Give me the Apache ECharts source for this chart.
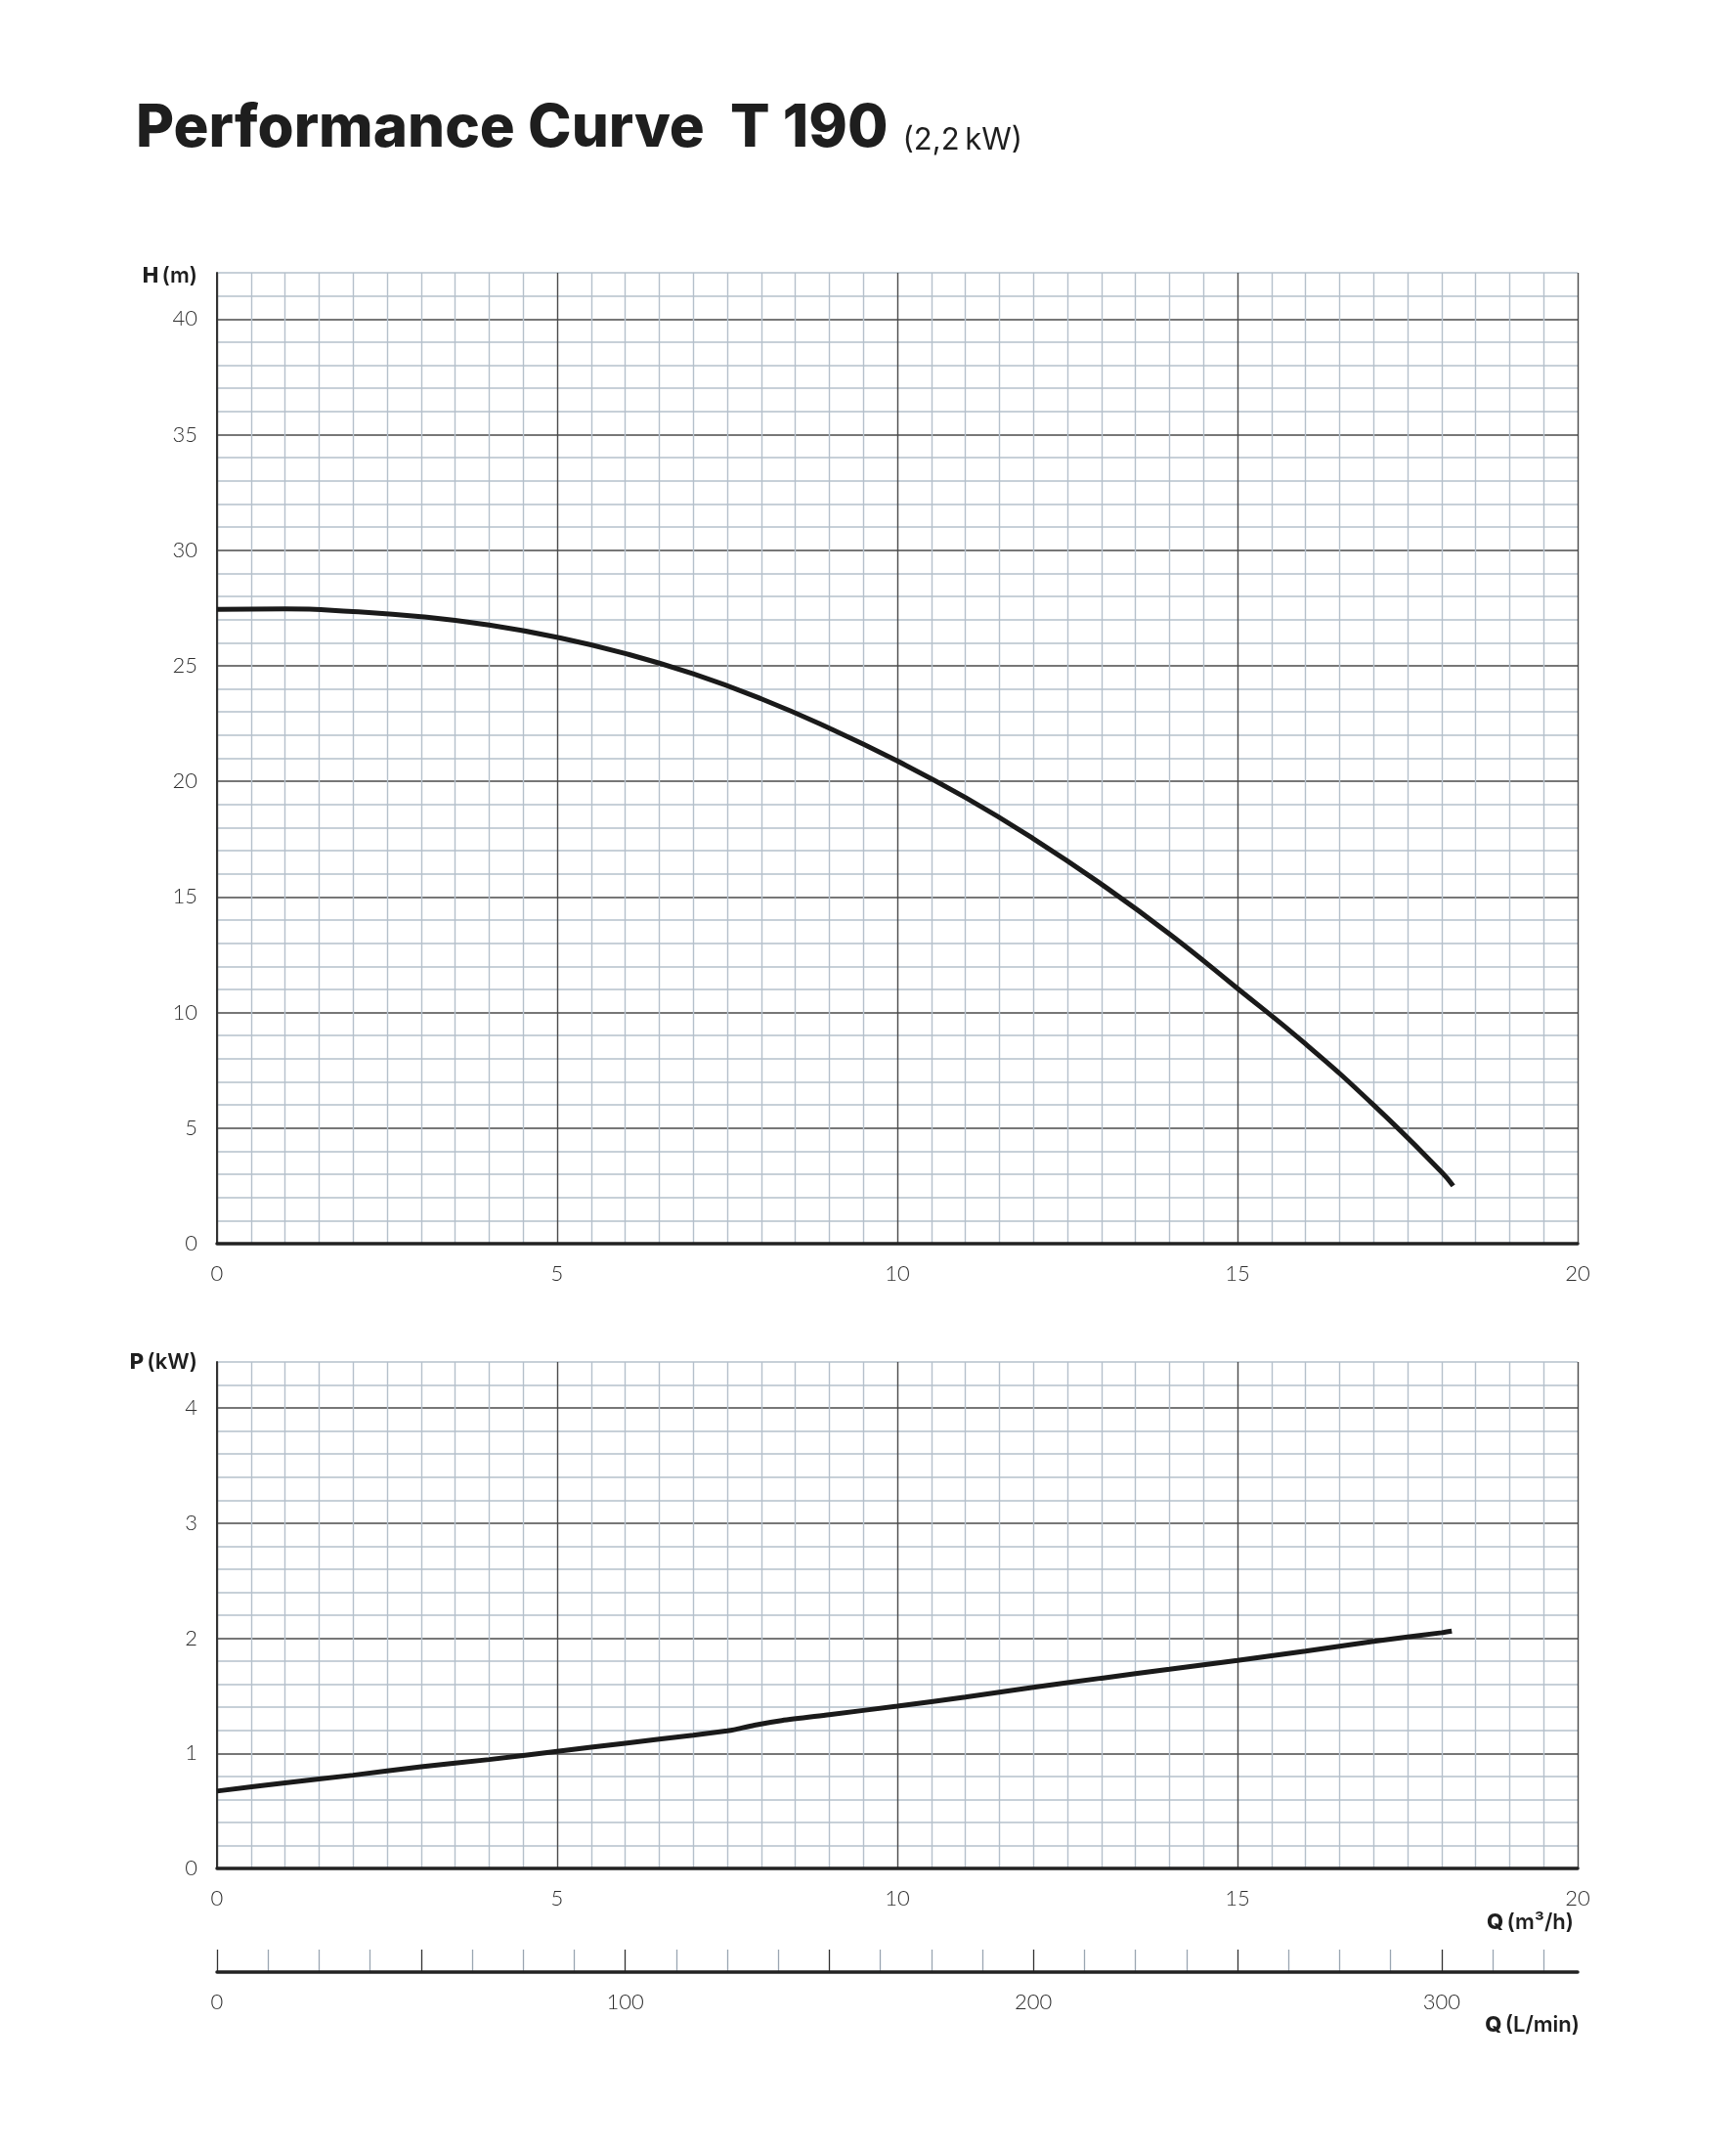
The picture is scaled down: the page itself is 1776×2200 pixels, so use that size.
<!DOCTYPE html>
<html><head><meta charset="utf-8">
<script src="https://cdn.jsdelivr.net/npm/echarts@6/dist/echarts.min.js"></script>
<style>html,body{margin:0;padding:0;background:#fff}#c{width:1776px;height:2200px}</style>
</head><body><div id="c"></div>
<script>
// ---- data ----
const flowForHead = [0, 1, 2, 3, 4, 5, 6, 7, 8, 9, 10, 11, 12, 13, 14, 15, 16, 17, 18, 18.17];
const headValues  = [27.44, 27.46, 27.34, 27.12, 26.76, 26.23, 25.53, 24.65, 23.57, 22.3, 20.88, 19.3, 17.52, 15.55, 13.4, 11.04, 8.64, 6.0, 3.1, 2.5];
const flowForPower = [0, 1, 2, 3, 4, 5, 6, 7, 7.5, 7.6, 7.9, 8.3, 9, 10, 11, 12, 13, 14, 15, 16, 17, 18, 18.15];
const powerValues  = [0.672, 0.743, 0.81, 0.884, 0.946, 1.017, 1.088, 1.158, 1.195, 1.205, 1.245, 1.285, 1.336, 1.41, 1.489, 1.573, 1.653, 1.73, 1.808, 1.887, 1.972, 2.048, 2.062];
const headTickLabels  = [0, 5, 10, 15, 20, 25, 30, 35, 40];
const powerTickLabels = [0, 1, 2, 3, 4];
const flowTickLabels  = [0, 5, 10, 15, 20];
const lminTickLabels  = [0, 100, 200, 300];

const titleMain = 'Performance Curve  T 190';
const titleSub = '(2,2\u2009kW)';

// ---- style ----
const LIGHT = '#b5c0cb';
const DARK = '#4a4a4a';
const lab = { color: '#2e2e2e', fontSize: 22, fontFamily: 'Lato', fontWeight: 300 };
function shown(list) { return v => list.some(t => Math.abs(t - v) < 1e-6) ? String(v) : ''; }
function colorCycle(n) { const a = [DARK]; for (let i = 1; i < n; i++) a.push(LIGHT); return a; }

function xAxisQ(gridIndex) {
  return {
    type: 'value', gridIndex, min: 0, max: 20, interval: 0.5,
    axisLine: { show: true, onZero: false, lineStyle: { color: '#222', width: 3.5 } },
    axisTick: { show: false },
    axisLabel: Object.assign({ margin: 20, formatter: shown(flowTickLabels) }, lab),
    splitLine: { show: true, lineStyle: { color: colorCycle(10), width: 1.4 } }
  };
}
function nameText(main, unit, right, top) {
  return { type: 'text', right: 1776 - right, top, style: { text: '{h|' + main + '} {u|' + unit + '}', rich: {
    h: { fontFamily: 'Inter', fontWeight: 800, fontSize: 22, fill: '#1e1e1e' },
    u: { fontFamily: 'Inter', fontWeight: 600, fontSize: 22, fill: '#1e1e1e' } } } };
}

const chart = echarts.init(document.getElementById('c'));
chart.setOption({
  backgroundColor: '#fff',
  animation: false,
  title: {
    left: 134, top: 91,
    text: '{a|' + titleMain + '} {b|' + titleSub + '}',
    textStyle: {
      rich: {
        a: { fontFamily: 'Inter', fontWeight: 800, fontSize: 60, color: '#1e1e1e', verticalAlign: 'bottom', lineHeight: 66 },
        b: { fontFamily: 'Inter', fontWeight: 400, fontSize: 31, color: '#1e1e1e', verticalAlign: 'bottom', lineHeight: 66, padding: [0, 0, 3, 10] }
      }
    }
  },
  grid: [
    { left: 222, width: 1392, top: 279, height: 993, containLabel: false },
    { left: 222, width: 1392, top: 1393, height: 518, containLabel: false },
    { left: 222, width: 1392, top: 1994, height: 23, containLabel: false }
  ],
  xAxis: [
    xAxisQ(0),
    xAxisQ(1),
    {
      type: 'value', gridIndex: 2, min: 0, max: 1000 / 3, interval: 12.5,
      axisLine: { show: true, onZero: false, lineStyle: { color: '#222', width: 3.5 } },
      axisTick: { show: false },
      axisLabel: Object.assign({ margin: 20, showMaxLabel: false, formatter: shown(lminTickLabels) }, lab),
      splitLine: { show: true, showMaxLine: false, lineStyle: { color: ['#333', '#9aa6b2', '#9aa6b2', '#9aa6b2'], width: 1.3 } }
    }
  ],
  yAxis: [
    {
      type: 'value', gridIndex: 0, min: 0, max: 42, interval: 1,
      axisLine: { show: true, lineStyle: { color: '#333', width: 2 } },
      axisTick: { show: false },
      axisLabel: Object.assign({ margin: 20, padding: [0, 0, 10, 0], formatter: shown(headTickLabels) }, lab),
      splitLine: { show: true, lineStyle: { color: colorCycle(5), width: 1.6 } }
    },
    {
      type: 'value', gridIndex: 1, min: 0, max: 4.4, interval: 0.2,
      axisLine: { show: true, lineStyle: { color: '#333', width: 2 } },
      axisTick: { show: false },
      axisLabel: Object.assign({ margin: 20, padding: [0, 0, 10, 0], formatter: shown(powerTickLabels) }, lab),
      splitLine: { show: true, lineStyle: { color: colorCycle(5), width: 1.6 } }
    },
    {
      type: 'value', gridIndex: 2, min: 0, max: 1, show: false,
      splitLine: { show: false }
    }
  ],
  graphic: [
    nameText('H', '(m)', 202, 271),
    nameText('P', '(kW)', 202, 1382),
    nameText('Q', '(m³/h)', 1610, 1955),
    nameText('Q', '(L/min)', 1616, 2060)
  ],
  series: [
    {
      type: 'line', xAxisIndex: 0, yAxisIndex: 0, smooth: 0.5, symbol: 'none',
      lineStyle: { color: '#1a1a1a', width: 5, cap: 'butt' },
      data: flowForHead.map((q, i) => [q, headValues[i]])
    },
    {
      type: 'line', xAxisIndex: 1, yAxisIndex: 1, smooth: 0.25, symbol: 'none',
      lineStyle: { color: '#1a1a1a', width: 5, cap: 'butt' },
      data: flowForPower.map((q, i) => [q, powerValues[i]])
    }
  ]
});
</script>
</body></html>
